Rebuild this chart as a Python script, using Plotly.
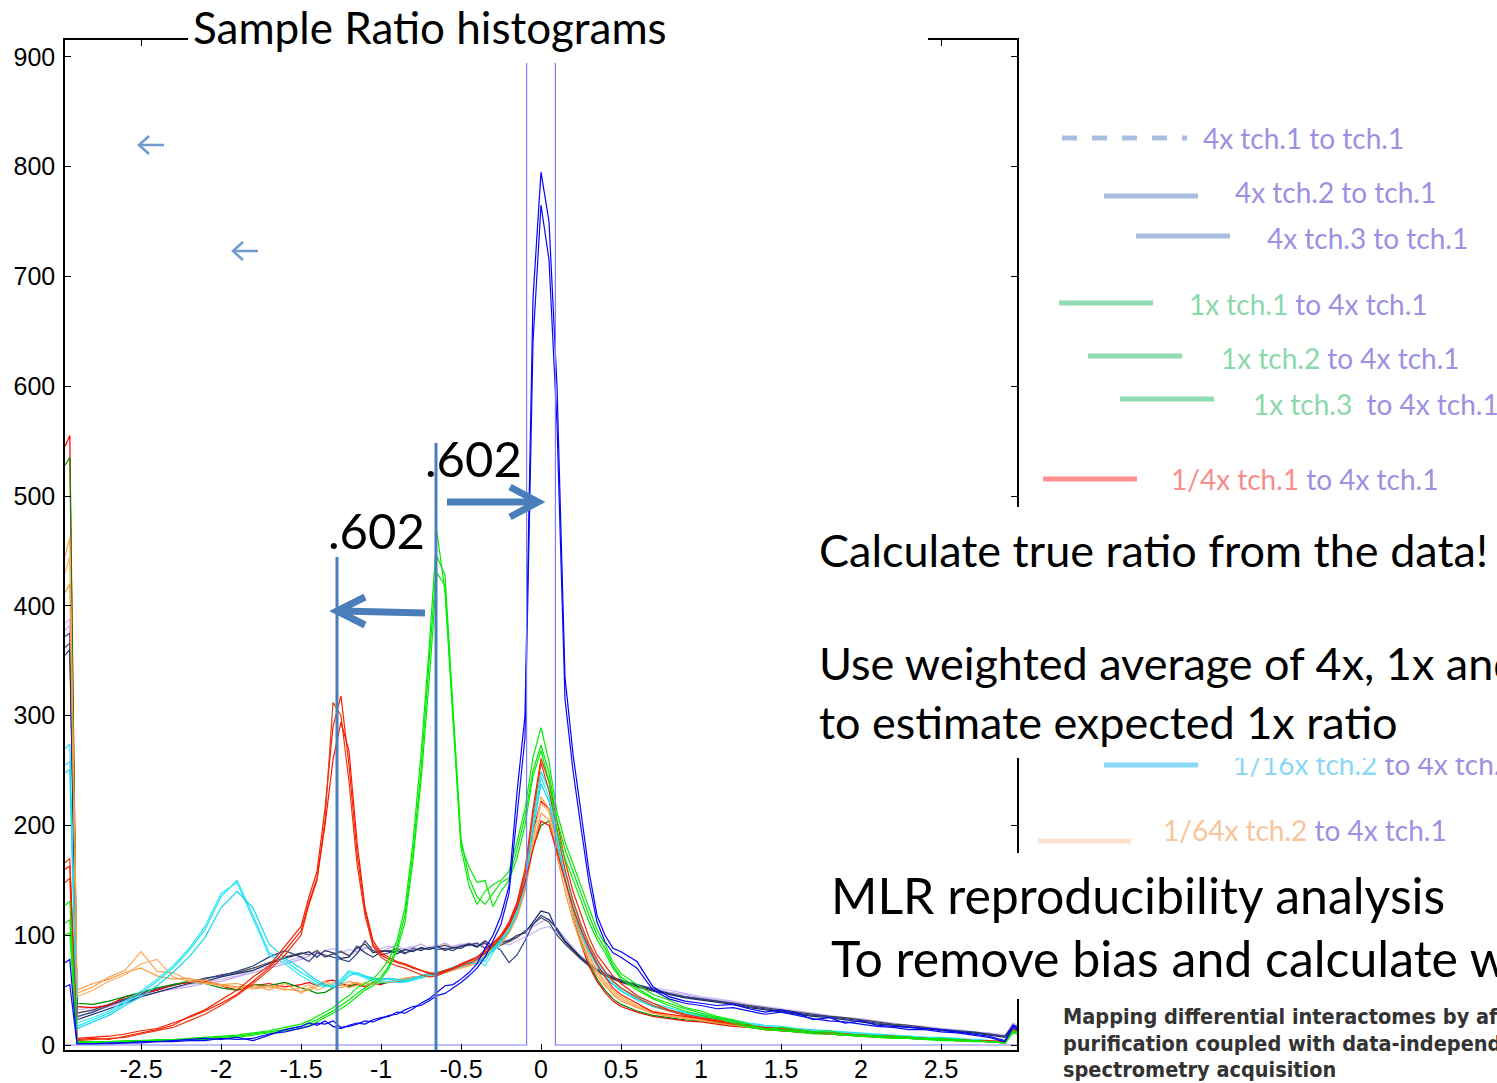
import plotly.graph_objects as go

# ---------------- data (histogram bin centres and counts) ----------------
X_BINS = [-2.975, -2.945, -2.9, -2.8, -2.7, -2.6, -2.5, -2.4, -2.3, -2.2, -2.1, -2.0, -1.9, -1.8, -1.7, -1.6, -1.5,
          -1.45, -1.4, -1.35, -1.3, -1.25, -1.2, -1.15, -1.1, -1.05, -1.0,
          -0.95, -0.9, -0.85, -0.8, -0.75, -0.7, -0.65, -0.6, -0.55, -0.5,
          -0.45, -0.4, -0.35, -0.3, -0.25, -0.2, -0.15, -0.1, -0.05, 0.0,
          0.05, 0.1, 0.15, 0.2, 0.25, 0.3, 0.35, 0.4, 0.45, 0.5,
          0.6, 0.7, 0.8, 0.9, 1.0, 1.1, 1.2, 1.3, 1.4, 1.5,
          1.6, 1.7, 1.8, 1.9, 2.0, 2.1, 2.2, 2.3, 2.4, 2.5,
          2.6, 2.7, 2.8, 2.9, 2.95, 2.975]

# self-ratio (4x tch.1 to tch.1): one spike bin
STEP_X = [-2.975, -0.09, -0.09, 0.09, 0.09, 2.975]
STEP_Y = [0, 0, 1000, 1000, 0, 0]

BLUE_A = [75, 78, 1, 1, 2, 2, 3, 3, 4, 5, 6, 5, 7, 4, 9, 14, 17,
          20, 18, 22, 17, 15, 18, 20, 19, 23, 25,
          26, 30, 29, 33, 38, 42, 48, 54, 55, 60,
          66, 74, 88, 100, 118, 145, 230, 300, 680, 795,
          750, 600, 335, 265, 212, 158, 118, 100, 88, 85,
          76, 53, 44, 40, 38, 36, 37, 33, 30, 32,
          29, 23, 25, 20, 22, 18, 17, 16, 15, 14,
          12, 10, 8, 4, 18, 15]
BLUE_B = [53, 55, 1, 1, 1, 2, 2, 3, 3, 4, 4, 6, 5, 6, 10, 12, 15,
          17, 20, 19, 22, 16, 17, 19, 22, 21, 24,
          27, 28, 32, 35, 36, 40, 45, 47, 52, 57,
          63, 70, 80, 95, 110, 138, 210, 280, 640, 765,
          715, 565, 315, 250, 198, 148, 112, 94, 84, 80,
          70, 50, 42, 38, 36, 33, 34, 31, 28, 30,
          27, 24, 22, 21, 19, 17, 16, 14, 14, 12,
          11, 9, 7, 3, 16, 14]

GREEN_A = [127, 131, 3, 3, 3, 4, 4, 5, 5, 6, 7, 8, 9, 11, 13, 16, 19,
           22, 26, 30, 34, 40, 45, 52, 56, 60, 68,
           78, 95, 125, 185, 265, 360, 467, 413, 292, 180,
           145, 128, 140, 146, 150, 158, 185, 215, 262, 289,
           258, 212, 185, 165, 144, 125, 105, 92, 75, 65,
           55, 46, 41, 34, 31, 26, 23, 19, 14, 16,
           14, 12, 13, 10, 9, 8, 8, 7, 6, 6,
           5, 4, 3, 2, 13, 12]
GREEN_B = [111, 114, 2, 3, 3, 3, 4, 4, 5, 5, 6, 7, 8, 10, 12, 14, 17,
           20, 23, 27, 31, 36, 41, 47, 52, 57, 62,
           72, 90, 118, 175, 250, 345, 445, 428, 305, 188,
           152, 135, 128, 138, 148, 152, 178, 208, 250, 273,
           248, 205, 178, 158, 138, 118, 100, 88, 72, 62,
           52, 43, 38, 33, 29, 25, 22, 17, 15, 14,
           13, 11, 11, 9, 8, 8, 7, 6, 5, 5,
           4, 4, 3, 2, 12, 11]
GREEN_C = [100, 102, 2, 2, 3, 3, 3, 4, 4, 5, 5, 6, 7, 9, 11, 13, 15,
           18, 21, 25, 29, 33, 38, 44, 50, 54, 60,
           70, 86, 112, 168, 240, 330, 430, 418, 300, 182,
           162, 148, 150, 126, 140, 150, 170, 200, 245, 268,
           240, 195, 170, 150, 132, 112, 96, 84, 70, 60,
           50, 42, 36, 31, 27, 24, 20, 16, 14, 13,
           12, 10, 10, 9, 8, 7, 6, 6, 5, 4,
           4, 3, 3, 2, 11, 10]

RED_A = [166, 170, 5, 6, 5, 8, 11, 14, 18, 26, 32, 41, 50, 62, 72, 90, 108,
         135, 158, 215, 290, 318, 255, 175, 122, 92, 82,
         78, 75, 73, 70, 68, 66, 65, 68, 70, 73,
         76, 80, 86, 92, 100, 112, 130, 160, 215, 261,
         240, 205, 168, 140, 118, 98, 82, 72, 63, 56,
         45, 38, 32, 28, 25, 23, 20, 18, 15, 14,
         13, 12, 11, 10, 9, 8, 8, 7, 6, 5,
         5, 4, 4, 3, 15, 13]
RED_B = [148, 152, 4, 5, 6, 7, 10, 13, 16, 22, 28, 36, 45, 56, 68, 82, 100,
         128, 150, 205, 312, 300, 240, 165, 118, 90, 80,
         75, 72, 70, 67, 64, 62, 63, 66, 69, 72,
         74, 78, 84, 90, 98, 108, 126, 155, 210, 257,
         232, 196, 160, 132, 110, 92, 78, 67, 58, 52,
         43, 36, 31, 27, 24, 21, 19, 17, 14, 13,
         12, 11, 10, 9, 8, 7, 7, 6, 5, 5,
         4, 4, 3, 3, 14, 12]
RED_C = [160, 163, 6, 7, 8, 10, 13, 15, 20, 25, 31, 38, 46, 58, 70, 86, 104,
         130, 152, 200, 260, 294, 268, 185, 125, 95, 84,
         80, 76, 74, 71, 68, 65, 64, 67, 70, 74,
         77, 80, 86, 93, 100, 110, 125, 148, 178, 204,
         200, 176, 150, 125, 105, 88, 74, 62, 52, 46,
         38, 30, 28, 26, 24, 22, 20, 18, 16, 15,
         14, 12, 11, 10, 9, 8, 7, 6, 6, 5,
         5, 4, 3, 3, 13, 12]

CYAN_A = [270, 274, 17, 23, 29, 38, 47, 58, 70, 86, 105, 135, 150, 118, 84, 77, 66,
          62, 57, 54, 53, 58, 66, 64, 62, 60, 59,
          60, 59, 58, 60, 62, 64, 65, 67, 70, 72,
          76, 80, 76, 88, 96, 108, 125, 150, 205, 249,
          232, 196, 158, 130, 108, 90, 76, 66, 58, 52,
          44, 38, 34, 30, 28, 25, 23, 20, 18, 17,
          15, 14, 13, 12, 11, 10, 9, 8, 7, 7,
          6, 5, 4, 3, 16, 14]
CYAN_B = [255, 258, 20, 25, 31, 40, 49, 60, 72, 88, 108, 138, 148, 115, 82, 74, 63,
          59, 55, 53, 55, 60, 68, 65, 61, 58, 57,
          58, 57, 57, 59, 61, 63, 64, 66, 69, 71,
          74, 78, 72, 84, 94, 105, 122, 148, 200, 244,
          226, 190, 152, 126, 104, 86, 73, 63, 56, 50,
          42, 36, 32, 29, 27, 24, 22, 19, 17, 16,
          14, 13, 12, 11, 10, 9, 8, 8, 7, 6,
          5, 5, 4, 3, 15, 13]
CYAN_C = [248, 251, 15, 21, 27, 36, 44, 54, 66, 80, 98, 125, 140, 125, 92, 79, 70,
          64, 59, 55, 52, 56, 63, 66, 63, 61, 60,
          61, 60, 59, 61, 63, 65, 66, 68, 71, 73,
          75, 74, 80, 86, 95, 104, 120, 145, 195, 238,
          222, 185, 150, 124, 102, 85, 72, 62, 55, 49,
          41, 35, 31, 28, 26, 23, 21, 18, 16, 15,
          13, 12, 11, 10, 9, 9, 8, 7, 6, 6,
          5, 4, 4, 3, 14, 12]

ORANGE_A = [445, 462, 47, 53, 62, 68, 85, 67, 66, 59, 59, 55, 53, 55, 50, 56, 47,
            52, 55, 58, 54, 52, 55, 57, 54, 56, 58,
            57, 59, 61, 60, 62, 63, 65, 66, 68, 70,
            72, 75, 80, 86, 93, 103, 118, 142, 185, 226,
            215, 182, 150, 122, 100, 82, 68, 58, 50, 44,
            36, 31, 28, 26, 24, 22, 20, 18, 16, 15,
            14, 13, 12, 11, 10, 9, 8, 7, 6, 6,
            5, 4, 3, 2, 14, 12]
ORANGE_B = [430, 445, 44, 50, 58, 64, 74, 78, 62, 58, 56, 54, 52, 51, 53, 50, 52,
            55, 50, 53, 57, 55, 52, 54, 57, 55, 57,
            58, 58, 60, 62, 61, 64, 66, 67, 69, 71,
            73, 76, 81, 88, 95, 105, 120, 146, 188, 220,
            212, 176, 146, 118, 96, 79, 66, 56, 48, 42,
            35, 30, 27, 25, 23, 21, 19, 17, 15, 14,
            13, 12, 11, 10, 9, 8, 8, 7, 6, 5,
            5, 4, 3, 2, 13, 11]
ORANGE_C = [412, 420, 50, 56, 60, 66, 70, 63, 60, 61, 57, 55, 56, 52, 54, 51, 49,
            50, 53, 56, 52, 55, 58, 56, 54, 57, 59,
            60, 58, 61, 61, 63, 64, 65, 68, 70, 72,
            74, 77, 81, 86, 92, 102, 116, 140, 180, 211,
            205, 172, 140, 113, 92, 76, 63, 54, 46, 40,
            34, 29, 26, 24, 22, 20, 18, 16, 15, 13,
            12, 11, 10, 9, 9, 8, 7, 6, 6, 5,
            4, 4, 3, 2, 12, 11]

FLAT_RED = [545, 555, 35, 34, 36, 44, 47, 50, 55, 57, 58, 54, 50, 54, 56, 53, 55,
            57, 54, 58, 59, 56, 54, 55, 53, 56, 55,
            58, 57, 60, 62, 61, 64, 66, 68, 70, 73,
            76, 80, 84, 90, 98, 110, 128, 155, 195, 222,
            215, 185, 150, 118, 92, 72, 58, 48, 40, 35,
            30, 26, 24, 22, 21, 19, 17, 16, 14, 13,
            12, 11, 10, 10, 9, 8, 7, 6, 6, 5,
            4, 4, 3, 3, 15, 13]
DARK_GREEN = [528, 535, 38, 37, 40, 44, 48, 52, 55, 58, 56, 52, 50, 55, 54, 57, 52,
              50, 47, 48, 52, 55, 53, 56, 54, 57, 56,
              57, 59, 58, 60, 62, 63, 65, 67, 70, 72,
              74, 78, 83, 89, 97, 108, 125, 150, 180, 200,
              204, 180, 150, 120, 95, 75, 60, 50, 42, 37,
              31, 27, 25, 23, 22, 20, 18, 16, 15, 13,
              12, 11, 10, 9, 9, 8, 7, 6, 5, 5,
              4, 4, 3, 2, 14, 12]

NAVY_A = [372, 375, 26, 30, 36, 41, 46, 50, 55, 57, 61, 63, 67, 72, 80, 86, 80,
          76, 84, 82, 80, 78, 76, 83, 95, 86, 82,
          84, 86, 83, 88, 86, 89, 87, 88, 86, 90,
          91, 93, 88, 92, 86, 75, 82, 95, 110, 118,
          114, 106, 95, 87, 80, 74, 69, 65, 62, 59,
          55, 51, 47, 44, 42, 40, 38, 35, 33, 31,
          29, 27, 26, 24, 22, 20, 18, 17, 15, 14,
          13, 12, 10, 8, 18, 17]
NAVY_B = [355, 360, 23, 28, 33, 38, 44, 48, 52, 56, 58, 62, 65, 68, 74, 79, 83,
          85, 80, 86, 84, 79, 80, 90, 84, 80, 85,
          86, 83, 87, 85, 89, 87, 90, 86, 89, 88,
          92, 89, 95, 90, 93, 95, 100, 102, 112, 122,
          120, 104, 94, 86, 79, 73, 68, 64, 61, 58,
          54, 50, 46, 43, 41, 39, 37, 34, 32, 30,
          28, 26, 25, 23, 21, 19, 18, 16, 15, 13,
          12, 11, 9, 7, 17, 16]
GRAY_A = [362, 366, 29, 32, 37, 42, 47, 51, 54, 58, 60, 64, 66, 70, 75, 80, 84,
          82, 86, 80, 83, 85, 81, 88, 92, 84, 86,
          85, 88, 84, 86, 88, 87, 89, 91, 88, 90,
          92, 90, 93, 88, 91, 94, 98, 104, 110, 116,
          112, 100, 92, 85, 78, 72, 67, 63, 60, 57,
          53, 49, 46, 44, 42, 40, 38, 36, 34, 32,
          30, 28, 26, 25, 23, 21, 19, 18, 16, 14,
          13, 11, 10, 8, 17, 16]
LAV_A = [384, 388, 32, 34, 37, 42, 46, 50, 52, 55, 57, 60, 63, 68, 72, 76, 80,
         84, 82, 86, 88, 84, 87, 85, 89, 86, 88,
         90, 87, 88, 90, 86, 89, 91, 88, 90, 92,
         90, 92, 88, 90, 93, 91, 95, 98, 102, 106,
         108, 102, 95, 88, 81, 75, 70, 66, 62, 59,
         55, 52, 50, 47, 44, 42, 40, 37, 35, 33,
         31, 29, 27, 25, 24, 22, 20, 18, 17, 15,
         14, 12, 11, 9, 20, 18]
LAV_B = [378, 382, 25, 31, 35, 40, 44, 48, 51, 53, 56, 58, 62, 66, 70, 74, 78,
         81, 85, 80, 83, 86, 82, 84, 88, 90, 85,
         88, 91, 86, 89, 92, 88, 90, 93, 89, 91,
         93, 90, 92, 89, 94, 96, 98, 103, 108, 112,
         115, 106, 97, 89, 80, 74, 69, 65, 61, 58,
         54, 51, 48, 46, 43, 41, 39, 36, 34, 32,
         30, 28, 26, 24, 23, 21, 19, 18, 16, 15,
         13, 12, 10, 8, 19, 17]

Y_TICKS = [0, 100, 200, 300, 400, 500, 600, 700, 800, 900]
X_TICKS = [-2.5, -2, -1.5, -1, -0.5, 0, 0.5, 1, 1.5, 2, 2.5]
X_TICK_LABELS = ["-2.5", "-2", "-1.5", "-1", "-0.5", "0", "0.5", "1", "1.5", "2", "2.5"]

SERIES = [  # (values, colour) - drawn bottom to top
    (LAV_A, "#cdb6f4"), (LAV_B, "#bfa4ee"), (GRAY_A, "#454545"),
    (NAVY_A, "#2a3f88"), (NAVY_B, "#1e2d66"),
    (FLAT_RED, "#ff0000"), (DARK_GREEN, "#008a00"),
    (ORANGE_A, "#ffa04a"), (ORANGE_B, "#ffb066"), (ORANGE_C, "#f59a45"),
    (CYAN_A, "#1fe3f3"), (CYAN_B, "#33e8f5"), (CYAN_C, "#10d8ee"),
    (RED_A, "#f02800"), (RED_B, "#e63a10"), (RED_C, "#ff1500"),
    (GREEN_A, "#00ee00"), (GREEN_B, "#10e010"), (GREEN_C, "#00f000"),
    (BLUE_A, "#0000ff"), (BLUE_B, "#0a0af0"),
]
for vals, _ in SERIES:
    assert len(vals) == len(X_BINS), len(vals)

# ---------------- figure ----------------
W, H = 1497, 1083
L, R, T, B = 65, 1017, 40, 1050  # plot area in pixels


def P(xp, yp):
    return (xp - L) / (R - L), (B - yp) / (B - T)


fig = go.Figure()
for vals, col in SERIES:
    fig.add_trace(go.Scatter(x=X_BINS, y=vals, mode="lines",
                             line=dict(color=col, width=1.2), showlegend=False,
                             hoverinfo="skip"))
fig.add_trace(go.Scatter(x=STEP_X, y=STEP_Y, mode="lines",
                         line=dict(color="#7f7ff5", width=1.2), showlegend=False,
                         hoverinfo="skip"))

axis_common = dict(showgrid=False, zeroline=False, ticks="inside", ticklen=6,
                   tickcolor="black", tickwidth=1, showline=True, linecolor="black",
                   linewidth=1.5, mirror="ticks", automargin=False,
                   tickfont=dict(family="Liberation Sans, Arial", size=25, color="black"))
fig.update_xaxes(range=[-2.975, 2.975], tickvals=X_TICKS, ticktext=X_TICK_LABELS,
                 ticklabelstandoff=-4, **axis_common)
fig.update_yaxes(range=[-4.55, 915.3], tickvals=Y_TICKS, ticklabelstandoff=3,
                 **axis_common)

shapes = []
ann = []
STEEL = "#4a7ebb"


def seg(x0, y0, x1, y1, color, width, dash=None):
    a0, b0 = P(x0, y0)
    a1, b1 = P(x1, y1)
    d = dict(type="line", xref="paper", yref="paper", x0=a0, y0=b0, x1=a1, y1=b1,
             line=dict(color=color, width=width), layer="above")
    if dash:
        d["line"]["dash"] = dash
    shapes.append(d)


def poly(points, color, width):
    s = ""
    for i, (xp, yp) in enumerate(points):
        a, b = P(xp, yp)
        s += ("M" if i == 0 else " L") + f" {a:.5f} {b:.5f}"
    shapes.append(dict(type="path", xref="paper", yref="paper", path=s,
                       line=dict(color=color, width=width), layer="above"))


# .602 guide lines and arrows
seg(337, 557, 337, 1050, STEEL, 3)
seg(436, 443, 436, 1050, STEEL, 3)
seg(425, 613, 342, 611, STEEL, 7)
poly([(365, 597), (337, 611), (365, 625)], STEEL, 7)
seg(447, 502, 532, 502, STEEL, 7)
poly([(510, 487), (538, 502), (510, 517)], STEEL, 7)
# small arrows upper-left
for (xa, ya) in [(139, 145), (233, 251)]:
    seg(xa, ya, xa + 25, ya, "#7099cc", 2.5)
    poly([(xa + 10, ya - 9), (xa, ya), (xa + 10, ya + 9)], "#7099cc", 2.5)

# legend samples
LEG_BLUE = "#a9bfe2"
LEG_GREEN = "#8fdcb2"
seg(1062, 138, 1187, 138, LEG_BLUE, 5, dash="dash")
seg(1104, 196, 1198, 196, LEG_BLUE, 5)
seg(1136, 236, 1230, 236, LEG_BLUE, 5)
seg(1059, 303, 1153, 303, LEG_GREEN, 5)
seg(1088, 356, 1182, 356, LEG_GREEN, 5)
seg(1120, 399, 1214, 399, LEG_GREEN, 5)
seg(1043, 479, 1137, 479, "#ff8f8f", 5)
seg(1104, 765, 1198, 765, "#88d7f5", 5)
seg(1038, 841, 1131, 841, "#fde1cd", 5)

PERI = "#9d90e2"


def text(xp, yp, s, size, color="black", family="Lato", anchor="left", bold=False):
    a, b = P(xp, yp)
    if bold:
        s = "<b>" + s + "</b>"
    ann.append(dict(xref="paper", yref="paper", x=a, y=b, xanchor=anchor, yanchor="middle",
                    text=s, showarrow=False, borderpad=0,
                    font=dict(family=family, size=size, color=color)))


def box(x0, y0, x1, y1):
    a, b = P(x0, y0)
    ann.append(dict(xref="paper", yref="paper", x=a, y=b, xanchor="left", yanchor="top",
                    text=" ", showarrow=False, width=x1 - x0, height=y1 - y0,
                    bgcolor="white", borderpad=0, borderwidth=0))


def sp(c, s):
    return f'<span style="color:{c}">{s}</span>'


LG = "#8bd8ab"
LEG_SIZE = 28
text(1202, 138, "4x tch.1 to tch.1", LEG_SIZE, PERI)
text(1234, 192, "4x tch.2 to tch.1", LEG_SIZE, PERI)
text(1266, 238, "4x tch.3 to tch.1", LEG_SIZE, PERI)
text(1188, 304, sp(LG, "1x tch.1") + " to 4x tch.1", LEG_SIZE, PERI)
text(1220, 358, sp(LG, "1x tch.2") + " to 4x tch.1", LEG_SIZE, PERI)
text(1252, 404, sp(LG, "1x tch.3") + "  to 4x tch.1", LEG_SIZE, PERI)
text(1170, 479, sp("#fa8c8c", "1/4x tch.1") + " to 4x tch.1", LEG_SIZE, PERI)
text(1232, 764, sp("#8ad8f5", "1/16x tch.2") + " to 4x tch.1", LEG_SIZE, PERI)
text(1162, 830, sp("#f8c49a", "1/64x tch.2") + " to 4x tch.1", LEG_SIZE, PERI)

# white slide text boxes covering parts of the plot
box(188, 0, 928, 63)
box(805, 507, 1497, 758)
box(815, 853, 1497, 999)

text(192, 27, "Sample Ratio histograms", 44)
text(818, 550, "Calculate true ratio from the data!", 45)
text(818, 663, "Use weighted average of 4x, 1x and", 45)
text(818, 722, "to estimate expected 1x ratio", 45)
text(830, 895, "MLR reproducibility analysis", 50)
text(830, 958, "To remove bias and calculate weights", 50)
text(424, 458, ".602", 49)
text(327, 530, ".602", 49)
CIT = "Liberation Sans Narrow, DejaVu Sans Condensed, Roboto, sans-serif"
text(1062, 1016, "Mapping differential interactomes by affinity", 21.5, "#333333", CIT, bold=True)
text(1062, 1043, "purification coupled with data-independent mass", 21.5, "#333333", CIT, bold=True)
text(1062, 1069, "spectrometry acquisition", 21.5, "#333333", CIT, bold=True)

fig.update_layout(width=W, height=H,
                  margin=dict(l=L, r=W - R, t=T, b=H - B, pad=0, autoexpand=False),
                  paper_bgcolor="white", plot_bgcolor="white", showlegend=False,
                  shapes=shapes, annotations=ann, hovermode=False)

# keep the page exactly the figure's size (no body margin)
fig.write_html("out.html", config={"displayModeBar": False},
               post_script=("document.documentElement.style.overflow='hidden';"
                            "document.body.style.margin='0px';document.body.style.overflow='hidden';"))
